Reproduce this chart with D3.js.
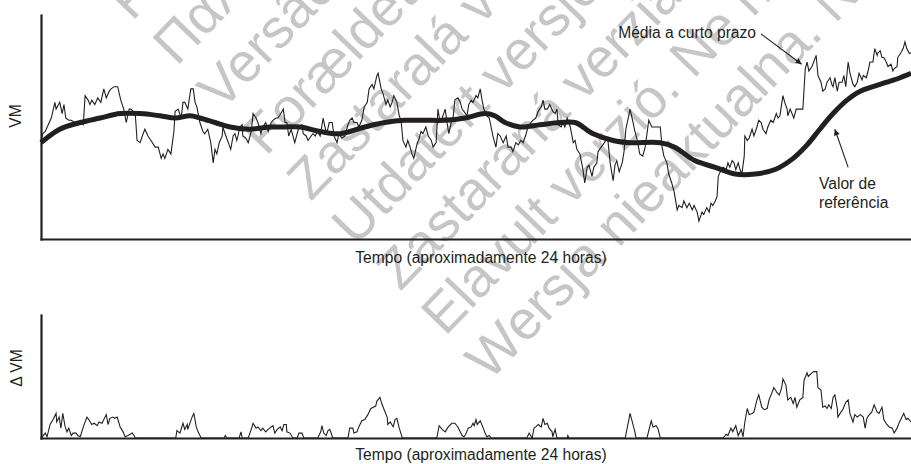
<!DOCTYPE html>
<html>
<head>
<meta charset="utf-8">
<script src="https://cdn.jsdelivr.net/npm/d3@7"></script>
<style>
  body { margin: 0; background: #fff; }
  svg { display: block; font-family: "Liberation Sans", Arial, sans-serif; }
</style>
</head>
<body>
<script>
// time in minutes (0..1440 ~ 24 h), VM in arbitrary units 0..100

var shortTerm = [
  [0,44],[3,47],[7,48],[17,54],[23,61],[25,58],[31,61],[35,56],[38,60],[41,54],[46,53],[50,53],[56,52],[65,52],[70,51],[73,64],[78,62],[81,60],[84,62],[89,60],[94,63],[99,61],[104,67],[108,63],[113,66],[116,67],[121,68],[127,68],[132,62],[137,58],[141,52],[146,58],[149,58],[156,56],[159,44],[164,43],[169,47],[172,49],[177,46],[182,44],[189,41],[194,41],[199,36],[202,38],[205,36],[210,40],[215,38],[220,48],[222,57],[227,58],[232,54],[235,61],[238,61],[243,58],[248,67],[252,67],[255,61],[258,59],[263,52],[268,48],[271,47],[276,49],[281,43],[285,34],[288,40],[291,38],[295,43],[300,46],[301,50],[306,46],[310,43],[314,40],[318,46],[321,47],[324,44],[326,46],[329,50],[333,51],[334,46],[339,45],[343,43],[348,48],[351,56],[356,54],[359,52],[364,47],[367,50],[372,52],[376,48],[381,52],[384,53],[389,54],[392,54],[397,56],[401,58],[404,52],[407,52],[410,46],[414,49],[417,46],[420,43],[424,47],[427,50],[432,51],[434,47],[439,46],[442,44],[447,46],[450,47],[454,46],[457,48],[462,46],[467,54],[470,50],[473,47],[477,52],[482,52],[485,46],[490,43],[493,47],[498,45],[503,46],[508,51],[511,53],[515,54],[518,52],[523,52],[526,50],[531,53],[535,59],[540,61],[543,67],[548,69],[551,67],[556,73],[558,74],[563,67],[566,65],[571,60],[574,62],[578,59],[581,61],[584,64],[589,61],[593,55],[596,53],[599,44],[604,41],[607,44],[611,41],[614,38],[617,36],[622,42],[626,45],[629,48],[632,47],[637,50],[641,46],[646,44],[649,41],[654,43],[657,58],[660,53],[664,54],[669,58],[672,52],[675,47],[679,52],[682,54],[685,62],[690,63],[694,61],[697,58],[700,57],[705,55],[708,60],[712,62],[715,61],[720,64],[723,63],[727,67],[730,62],[733,58],[738,55],[742,54],[745,50],[748,46],[753,41],[756,47],[760,46],[765,43],[770,46],[773,41],[778,41],[781,39],[786,43],[790,42],[794,44],[798,43],[803,47],[806,50],[811,52],[814,53],[819,54],[823,57],[828,59],[831,62],[834,58],[838,58],[842,60],[847,57],[851,56],[854,58],[856,51],[861,50],[864,52],[867,50],[871,54],[876,50],[881,43],[884,44],[887,40],[892,38],[897,31],[900,25],[904,32],[907,33],[912,28],[915,32],[920,34],[922,39],[927,41],[930,42],[935,44],[938,45],[942,34],[947,26],[950,33],[953,35],[957,30],[962,34],[965,39],[968,49],[972,54],[975,58],[980,52],[983,48],[987,44],[991,38],[996,37],[1000,41],[1003,47],[1006,53],[1011,50],[1015,50],[1020,50],[1025,50],[1028,41],[1031,37],[1036,34],[1039,29],[1044,25],[1048,21],[1053,13],[1056,15],[1061,14],[1064,17],[1069,14],[1073,16],[1078,13],[1081,15],[1086,12],[1089,8],[1094,12],[1097,11],[1102,14],[1106,12],[1109,16],[1112,15],[1116,17],[1119,19],[1121,28],[1126,31],[1129,32],[1134,31],[1137,34],[1140,32],[1144,35],[1147,34],[1150,31],[1154,34],[1157,31],[1160,29],[1164,37],[1165,46],[1169,44],[1172,45],[1177,49],[1180,46],[1185,50],[1188,53],[1192,52],[1195,49],[1200,47],[1203,50],[1208,53],[1212,52],[1217,56],[1220,54],[1223,55],[1228,64],[1231,61],[1235,58],[1236,55],[1240,58],[1243,56],[1246,54],[1250,58],[1253,58],[1258,58],[1261,58],[1265,76],[1268,79],[1271,75],[1276,77],[1279,79],[1283,82],[1286,73],[1291,70],[1294,66],[1298,67],[1301,70],[1306,72],[1309,69],[1311,68],[1314,72],[1318,66],[1321,70],[1326,70],[1329,73],[1332,68],[1336,79],[1339,74],[1344,69],[1347,68],[1351,70],[1354,74],[1359,71],[1361,73],[1366,72],[1369,75],[1372,79],[1377,79],[1380,85],[1384,82],[1385,83],[1389,84],[1392,81],[1395,81],[1399,79],[1402,77],[1407,78],[1410,75],[1412,76],[1417,77],[1418,81],[1423,83],[1427,85],[1430,88],[1433,85],[1437,83],[1440,83]
]

var baseline = [
  [0,43],[31,49],[65,52],[98,54],[131,56],[164,56],[197,55],[222,54],[247,55],[263,54],[288,52],[313,50],[346,49],[379,50],[404,50],[429,50],[462,48],[495,47],[536,50],[569,52],[602,53],[636,53],[669,53],[702,54],[735,56],[751,55],[768,52],[793,50],[826,51],[859,52],[884,52],[914,47],[947,44],[975,43],[1025,43],[1049,41],[1082,35],[1116,32],[1149,29],[1182,29],[1215,31],[1245,36],[1268,42],[1289,49],[1311,56],[1334,62],[1356,66],[1377,68],[1400,70],[1422,72],[1440,74]
]

var deltaVM = [
  [0,0],[2,1],[7,4],[10,1],[15,11],[20,15],[25,20],[26,13],[30,17],[33,8],[36,20],[40,9],[43,5],[46,8],[50,2],[53,4],[58,4],[61,2],[65,1],[70,9],[76,17],[79,15],[84,11],[88,12],[93,10],[96,13],[101,12],[104,15],[108,19],[111,11],[114,16],[119,17],[122,16],[126,17],[131,9],[136,5],[139,1],[144,2],[151,4],[154,2],[156,0],[223,0],[225,6],[230,4],[235,12],[238,7],[242,11],[243,7],[250,17],[253,20],[257,9],[260,5],[265,0],[303,0],[305,2],[308,0],[328,0],[331,5],[333,0],[343,0],[348,7],[351,12],[356,8],[359,9],[364,6],[367,8],[372,5],[376,7],[381,9],[384,10],[387,4],[391,7],[396,9],[399,6],[402,11],[406,11],[407,5],[412,4],[417,0],[424,0],[427,4],[432,4],[435,0],[458,0],[463,5],[465,10],[468,4],[472,2],[475,6],[478,7],[483,0],[508,0],[511,8],[516,8],[518,4],[523,5],[526,9],[531,14],[536,15],[541,19],[546,24],[550,25],[554,26],[556,30],[561,33],[564,28],[568,23],[573,17],[574,11],[578,13],[583,9],[586,15],[589,16],[593,8],[598,0],[655,0],[659,10],[664,7],[669,5],[674,9],[680,12],[685,12],[690,9],[697,2],[700,1],[703,3],[707,8],[712,9],[715,12],[717,10],[720,15],[722,11],[727,14],[732,8],[735,4],[738,1],[742,2],[745,0],[804,0],[808,4],[813,0],[816,8],[819,9],[823,11],[828,9],[831,16],[834,11],[838,12],[841,8],[846,5],[847,1],[851,7],[854,0],[871,0],[872,2],[874,0],[967,0],[975,20],[983,5],[985,0],[1003,0],[1010,14],[1013,9],[1018,10],[1021,8],[1025,0],[1129,0],[1134,3],[1137,2],[1142,8],[1145,5],[1150,10],[1154,2],[1159,7],[1162,1],[1165,13],[1169,24],[1172,19],[1177,20],[1180,21],[1185,31],[1188,35],[1193,25],[1197,23],[1202,24],[1205,31],[1210,37],[1213,41],[1218,37],[1222,35],[1226,41],[1228,48],[1233,43],[1236,31],[1241,33],[1245,28],[1248,33],[1251,25],[1256,31],[1261,33],[1263,47],[1268,53],[1270,50],[1276,53],[1279,54],[1284,54],[1286,41],[1291,39],[1294,25],[1298,26],[1301,24],[1304,27],[1308,24],[1311,33],[1314,35],[1318,24],[1319,17],[1324,21],[1327,23],[1332,29],[1336,31],[1339,20],[1344,13],[1347,19],[1351,17],[1356,19],[1361,17],[1364,8],[1367,16],[1371,19],[1375,21],[1379,27],[1384,21],[1387,20],[1392,25],[1395,15],[1400,11],[1404,9],[1409,8],[1412,4],[1417,8],[1420,12],[1425,17],[1428,20],[1432,15],[1435,16],[1440,13]
]

var xLabel = 'Tempo (aproximadamente 24 horas)'
var topYLabel = 'VM'
var bottomYLabel = '\u0394 VM'
var shortTermLabel = 'Média a curto prazo'
var baselineLabel = ['Valor de', 'referência']

var watermark = [
  'Föråldrad version. Använd ej.',
  'Παλιά έκδοση. Μην την χρησιμοποιείτε.',
  'Versão obsoleta. Não utilize.',
  'Forældet version. Må ikke anvendes.',
  'Zastaralá verze. Nepoužívat.',
  'Utdatert versjon. Skal ikke brukes.',
  'Zastaraná verzia. Nepoužívať.',
  'Elavult verzió. Ne használja!',
  'Wersja nieaktualna. Nie używać.'
]

var width = 911, height = 464
var ink = '#231f20'

var svg = d3.select('body').append('svg')
  .attr('width', width)
  .attr('height', height)

svg.append('rect').attr('width', width).attr('height', height).attr('fill', '#fff')

// watermark behind everything
svg.append('g').selectAll('text')
  .data(watermark)
  .enter()
  .append('text')
  .attr('transform', function(d, i) {
    return 'translate(' + (132 + 44.7 * i) + ',' + (22 + 45 * i) + ') rotate(-46)'
  })
  .attr('font-size', 55)
  .attr('fill', '#c6c6c6')
  .text(function(d) { return d })

var x = d3.scaleLinear().domain([0, 1440]).range([41, 911])
var yTop = d3.scaleLinear().domain([0, 100]).range([239, 15])
var yBot = d3.scaleLinear().domain([0, 100]).range([438, 315])

var lineTop = d3.line()
  .x(function(d) { return x(d[0]) })
  .y(function(d) { return yTop(d[1]) })

var lineBase = d3.line()
  .x(function(d) { return x(d[0]) })
  .y(function(d) { return yTop(d[1]) })
  .curve(d3.curveCatmullRom.alpha(0.5))

var lineBot = d3.line()
  .x(function(d) { return x(d[0]) })
  .y(function(d) { return yBot(d[1]) })

svg.append('path')
  .datum(shortTerm)
  .attr('d', lineTop)
  .attr('fill', 'none')
  .attr('stroke', ink)
  .attr('stroke-width', 1.1)

svg.append('path')
  .datum(baseline)
  .attr('d', lineBase)
  .attr('fill', 'none')
  .attr('stroke', ink)
  .attr('stroke-width', 5)

svg.append('path')
  .datum(deltaVM)
  .attr('d', lineBot)
  .attr('fill', 'none')
  .attr('stroke', ink)
  .attr('stroke-width', 1.1)

// axes: bare lines, no ticks
function bareAxis(g) {
  g.selectAll('.tick').remove()
  g.select('.domain').attr('stroke', ink).attr('stroke-width', 2.2)
}

svg.append('g').attr('transform', 'translate(41,0)')
  .call(d3.axisLeft(yTop).ticks(0).tickSizeOuter(0)).call(bareAxis)
svg.append('g').attr('transform', 'translate(0,239)')
  .call(d3.axisBottom(x).ticks(0).tickSizeOuter(0)).call(bareAxis)
svg.append('g').attr('transform', 'translate(41,0)')
  .call(d3.axisLeft(yBot).ticks(0).tickSizeOuter(0)).call(bareAxis)
svg.append('g').attr('transform', 'translate(0,438)')
  .call(d3.axisBottom(x).ticks(0).tickSizeOuter(0)).call(bareAxis)

svg.selectAll('.domain').attr('stroke-linecap', 'square')

var fs = 15.6

svg.append('text').attr('x', 481).attr('y', 263)
  .attr('text-anchor', 'middle').attr('font-size', fs).attr('fill', ink)
  .text(xLabel)
svg.append('text').attr('x', 481).attr('y', 460)
  .attr('text-anchor', 'middle').attr('font-size', fs).attr('fill', ink)
  .text(xLabel)

svg.append('text').attr('transform', 'translate(21,116) rotate(-90)')
  .attr('text-anchor', 'middle').attr('font-size', fs).attr('fill', ink)
  .text(topYLabel)
svg.append('text').attr('transform', 'translate(22,368) rotate(-90)')
  .attr('text-anchor', 'middle').attr('font-size', fs).attr('fill', ink)
  .text(bottomYLabel)

// annotations
svg.append('defs').append('marker')
  .attr('id', 'arrow')
  .attr('viewBox', '0 0 10 10')
  .attr('refX', 10).attr('refY', 5)
  .attr('markerWidth', 9).attr('markerHeight', 6)
  .attr('markerUnits', 'userSpaceOnUse')
  .attr('orient', 'auto')
  .append('path')
  .attr('d', 'M0,0L10,5L0,10z')
  .attr('fill', ink)

svg.append('text').attr('x', 756).attr('y', 38)
  .attr('text-anchor', 'end').attr('font-size', fs).attr('fill', ink)
  .text(shortTermLabel)

svg.append('line')
  .attr('x1', x(1192)).attr('y1', yTop(91.5))
  .attr('x2', x(1259)).attr('y2', yTop(78))
  .attr('stroke', ink).attr('stroke-width', 1.1)
  .attr('marker-end', 'url(#arrow)')

svg.append('text').attr('x', 819).attr('y', 189)
  .attr('font-size', fs).attr('fill', ink)
  .selectAll('tspan')
  .data(baselineLabel)
  .enter()
  .append('tspan')
  .attr('x', 819)
  .attr('dy', function(d, i) { return i ? 19 : 0 })
  .text(function(d) { return d })

svg.append('line')
  .attr('x1', x(1336)).attr('y1', yTop(32))
  .attr('x2', x(1314)).attr('y2', yTop(49))
  .attr('stroke', ink).attr('stroke-width', 1.1)
  .attr('marker-end', 'url(#arrow)')
</script>
</body>
</html>
